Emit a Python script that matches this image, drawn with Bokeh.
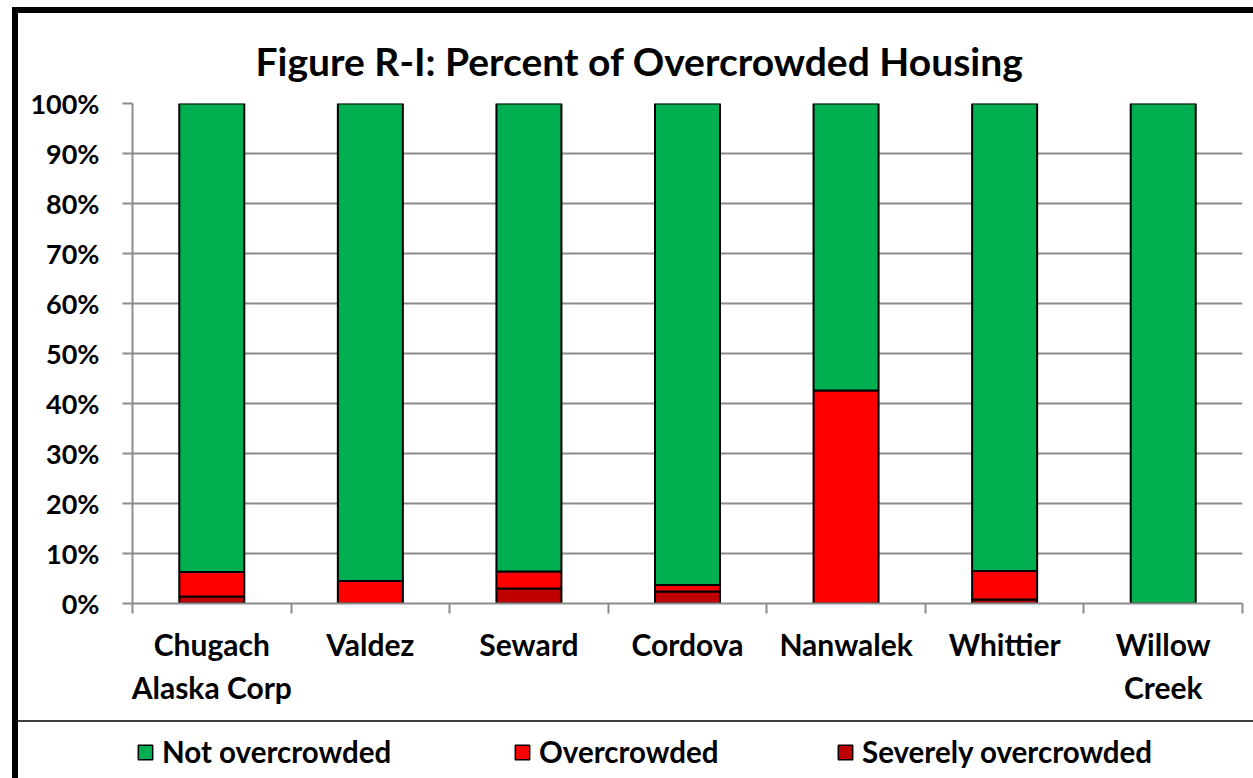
from bokeh.plotting import figure
from bokeh.layouts import column
from bokeh.models import (ColumnDataSource, Range1d, FixedTicker, PrintfTickFormatter,
                          Legend, LegendItem)
from bokeh.embed import file_html
from bokeh.resources import INLINE

# ---- data ----
categories = ["Chugach Alaska Corp", "Valdez", "Seward", "Cordova", "Nanwalek", "Whittier", "Willow Creek"]
tick_labels = ["Chugach\nAlaska Corp", "Valdez", "Seward", "Cordova", "Nanwalek", "Whittier", "Willow\nCreek"]
severely_overcrowded = [1.4, 0.0, 3.0, 2.4, 0.0, 0.8, 0.0]
overcrowded = [4.9, 4.5, 3.4, 1.3, 42.6, 5.7, 0.0]
not_overcrowded = [100 - s - o for s, o in zip(severely_overcrowded, overcrowded)]
series_names = ["Not overcrowded", "Overcrowded", "Severely overcrowded"]
y_ticks = list(range(0, 101, 10))

GREEN = "#00B050"
RED = "#FF0000"
DARKRED = "#C00000"
FONT = "Lato"
GRAY = "#8C8C8C"

xpos = [i + 0.5 for i in range(len(categories))]
source = ColumnDataSource(dict(x=xpos, cat=categories, severe=severely_overcrowded,
                               over=overcrowded, notover=not_overcrowded))

# ---- main chart ----
p = figure(frame_width=1110, frame_height=500, output_backend="svg", toolbar_location=None,
           x_range=Range1d(0, len(categories)), y_range=Range1d(0, 100),
           min_border_left=114, min_border_right=11, min_border_top=90, min_border_bottom=117)

p.title.text = "Figure R-I: Percent of Overcrowded Housing"
p.title.text_font = FONT
p.title.text_font_size = "39px"
p.title.text_font_style = "bold"
p.title.align = "left"
p.title.offset = 123
p.title.text_color = "black"
p.title.standoff = 40

renderers = p.vbar_stack(["severe", "over", "notover"], x="x", width=0.41, source=source,
                         fill_color=[DARKRED, RED, GREEN], line_color="black", line_width=2)

p.outline_line_color = None
p.xgrid.grid_line_color = None
p.ygrid.grid_line_color = GRAY
p.ygrid.grid_line_width = 2
p.ygrid.ticker = FixedTicker(ticks=y_ticks)

p.yaxis.ticker = FixedTicker(ticks=y_ticks)
p.yaxis.formatter = PrintfTickFormatter(format="%d%%")
p.yaxis.axis_line_color = GRAY
p.yaxis.axis_line_width = 2
p.yaxis.major_tick_line_color = GRAY
p.yaxis.major_tick_line_width = 2
p.yaxis.major_tick_out = 10
p.yaxis.major_tick_in = 0
p.yaxis.minor_tick_line_color = None
p.yaxis.major_label_text_font = FONT
p.yaxis.major_label_text_font_size = "27px"
p.yaxis.major_label_text_font_style = "bold"
p.yaxis.major_label_text_color = "black"
p.yaxis.major_label_standoff = 23

p.xaxis.ticker = FixedTicker(ticks=xpos, minor_ticks=list(range(len(categories) + 1)))
p.xaxis.major_label_overrides = {x: lab for x, lab in zip(xpos, tick_labels)}
p.xaxis.axis_line_color = GRAY
p.xaxis.axis_line_width = 2
p.xaxis.major_tick_line_color = None
p.xaxis.minor_tick_line_color = GRAY
p.xaxis.minor_tick_line_width = 2
p.xaxis.minor_tick_out = 10
p.xaxis.minor_tick_in = 0
p.xaxis.major_label_text_font = FONT
p.xaxis.major_label_text_font_size = "30px"
p.xaxis.major_label_text_font_style = "bold"
p.xaxis.major_label_text_color = "black"
p.xaxis.major_label_standoff = 12

# ---- legend strip (frame aligns with the main chart's frame) ----
p2 = figure(width=1235, height=58, output_backend="svg", toolbar_location=None,
            x_range=Range1d(0, 1), y_range=Range1d(0, 1),
            min_border_left=0, min_border_right=0, min_border_top=0, min_border_bottom=0,
            x_axis_type=None, y_axis_type=None,
            styles={"border-top": "2px solid #3F3F3F"})
p2.outline_line_color = None
p2.grid.visible = False

legend_x = [4, 381, 704]
for name, col, lx in zip(series_names, [GREEN, RED, DARKRED], legend_x):
    # legend swatch only; its single point lies outside the visible range
    swatch = ColumnDataSource(dict(x=[-5], top=[0]))
    r = p2.vbar(x="x", top="top", width=0.1, source=swatch, fill_color=col,
                line_color="black", line_width=1.5)
    lg = Legend(items=[LegendItem(label=name, renderers=[r])], location=(lx, 11),
                orientation="horizontal")
    lg.label_text_font = FONT
    lg.label_text_font_size = "29.5px"
    lg.label_text_font_style = "bold"
    lg.label_text_color = "black"
    lg.glyph_width = 18
    lg.glyph_height = 18
    lg.label_standoff = 8
    lg.border_line_color = None
    lg.background_fill_alpha = 0
    lg.margin = 0
    lg.padding = 0
    p2.add_layout(lg, "center")

layout = column(p, p2, spacing=0,
                styles={"border-left": "6px solid black", "border-top": "6px solid black",
                        "margin-left": "12px", "margin-top": "7px"})

open("out.html", "w").write(file_html(layout, INLINE))
